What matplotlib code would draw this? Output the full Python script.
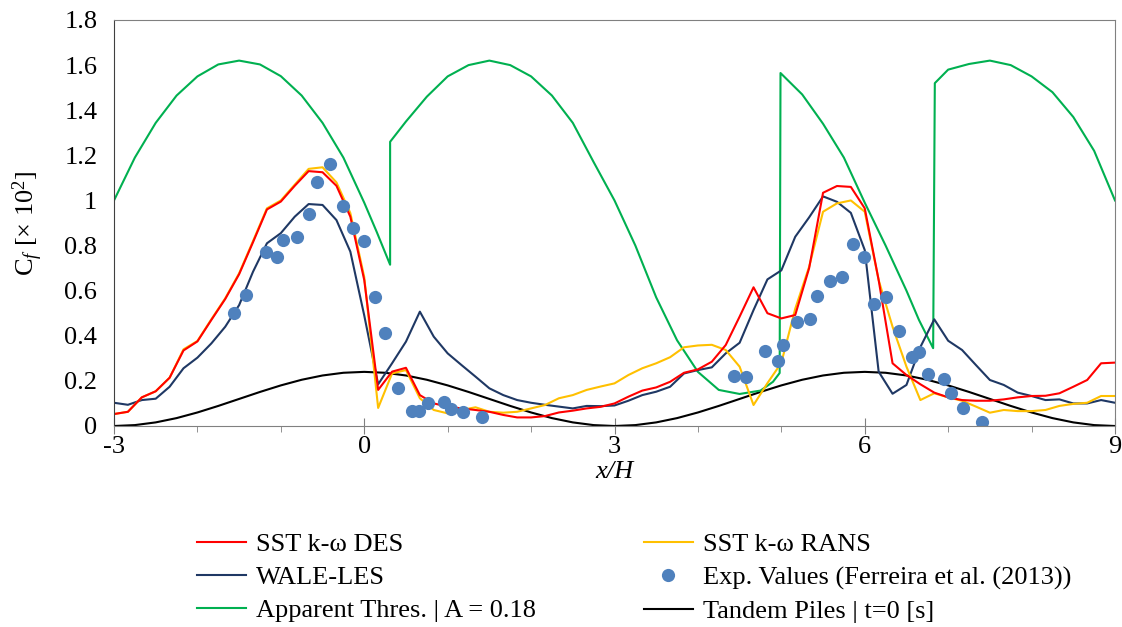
import numpy as np
import matplotlib.pyplot as plt
from matplotlib.lines import Line2D
from matplotlib.ticker import MultipleLocator

plt.rcParams['font.family'] = ['Liberation Serif', 'DejaVu Serif']
plt.rcParams['mathtext.fontset'] = 'custom'
plt.rcParams['mathtext.rm'] = 'Liberation Serif'
plt.rcParams['mathtext.it'] = 'Liberation Serif:italic'
plt.rcParams['axes.unicode_minus'] = False

# bed shear stations, every H/6 from x/H = -3 to 9
x_h = np.linspace(-3, 9, 73)

des = [0.053, 0.063, 0.127, 0.154, 0.214, 0.335, 0.375, 0.470, 0.563, 0.673,
       0.815, 0.960, 0.995, 1.065, 1.130, 1.125, 1.065, 0.928, 0.647, 0.160,
       0.241, 0.258, 0.137, 0.100, 0.086, 0.078, 0.071, 0.063, 0.049, 0.038,
       0.038, 0.044, 0.060, 0.068, 0.078, 0.085, 0.100, 0.130, 0.157, 0.171,
       0.196, 0.236, 0.251, 0.285, 0.359, 0.485, 0.615, 0.500, 0.477, 0.492,
       0.700, 1.034, 1.064, 1.060, 0.965, 0.647, 0.278, 0.226, 0.185, 0.148,
       0.127, 0.115, 0.112, 0.112, 0.118, 0.127, 0.133, 0.134, 0.145, 0.174,
       0.204, 0.278, 0.281]

rans = [0.053, 0.063, 0.127, 0.154, 0.214, 0.340, 0.377, 0.473, 0.566, 0.677,
        0.820, 0.965, 1.000, 1.070, 1.140, 1.147, 1.080, 0.944, 0.660, 0.080,
        0.233, 0.248, 0.123, 0.071, 0.056, 0.071, 0.083, 0.063, 0.059, 0.063,
        0.078, 0.093, 0.123, 0.137, 0.160, 0.175, 0.189, 0.226, 0.256, 0.278,
        0.305, 0.349, 0.357, 0.360, 0.337, 0.263, 0.093, 0.190, 0.280, 0.520,
        0.706, 0.950, 0.987, 1.000, 0.950, 0.647, 0.440, 0.263, 0.115, 0.145,
        0.127, 0.112, 0.086, 0.059, 0.071, 0.066, 0.066, 0.071, 0.089, 0.098,
        0.103, 0.133, 0.133]

les = [0.103, 0.094, 0.115, 0.121, 0.174, 0.256, 0.303, 0.366, 0.440, 0.536,
       0.684, 0.810, 0.855, 0.928, 0.984, 0.980, 0.913, 0.773, 0.490, 0.185,
       0.278, 0.374, 0.507, 0.396, 0.322, 0.270, 0.219, 0.167, 0.137, 0.115,
       0.103, 0.094, 0.086, 0.078, 0.089, 0.088, 0.091, 0.112, 0.137, 0.152,
       0.174, 0.233, 0.248, 0.260, 0.322, 0.369, 0.514, 0.650, 0.690, 0.839,
       0.925, 1.018, 0.994, 0.945, 0.780, 0.241, 0.143, 0.182, 0.350, 0.473,
       0.378, 0.337, 0.270, 0.204, 0.182, 0.148, 0.133, 0.115, 0.118, 0.100,
       0.100, 0.115, 0.103]

exp_x = [-1.56, -1.42, -1.18, -1.04, -0.97, -0.81, -0.66, -0.57, -0.41, -0.25,
         -0.13, 0.00, 0.13, 0.25, 0.41, 0.57, 0.66, 0.77, 0.96, 1.04, 1.18, 1.41,
         4.43, 4.58, 4.80, 4.96, 5.02, 5.19, 5.34, 5.43, 5.58, 5.73, 5.86, 5.99,
         6.11, 6.25, 6.41, 6.57, 6.65, 6.76, 6.95, 7.03, 7.18, 7.40]
exp_cf = [0.502, 0.582, 0.773, 0.750, 0.823, 0.836, 0.941, 1.080, 1.160, 0.974,
          0.878, 0.819, 0.573, 0.411, 0.167, 0.066, 0.066, 0.100, 0.108, 0.074,
          0.063, 0.041,
          0.223, 0.219, 0.334, 0.290, 0.361, 0.462, 0.473, 0.576, 0.643, 0.659,
          0.805, 0.750, 0.541, 0.573, 0.421, 0.304, 0.326, 0.230, 0.208, 0.145,
          0.078, 0.019]

thres_x = [-3.0, -2.75, -2.5, -2.25, -2.0, -1.75, -1.5, -1.25, -1.0, -0.75,
           -0.5, -0.25, 0.0, 0.15, 0.31,
           0.31, 0.5, 0.75, 1.0, 1.25, 1.5, 1.75, 2.0, 2.25, 2.5, 2.75, 3.0,
           3.25, 3.5, 3.75, 4.0, 4.25, 4.5, 4.75, 4.9, 4.98,
           4.99, 5.25, 5.5, 5.75, 6.0, 6.25, 6.5, 6.65, 6.82,
           6.84, 7.0, 7.25, 7.5, 7.75, 8.0, 8.25, 8.5, 8.75, 9.0]
thres_cf = [1.00, 1.19, 1.344, 1.465, 1.55, 1.603, 1.62, 1.603, 1.551, 1.465,
            1.344, 1.19, 0.99, 0.86, 0.715,
            1.26, 1.35, 1.46, 1.55, 1.60, 1.62, 1.60, 1.55, 1.465, 1.344, 1.17,
            1.00, 0.80, 0.57, 0.38, 0.24, 0.16, 0.142, 0.157, 0.196, 0.235,
            1.565, 1.47, 1.34, 1.19, 0.99, 0.80, 0.60, 0.47, 0.345,
            1.52, 1.58, 1.605, 1.62, 1.60, 1.55, 1.48, 1.37, 1.22, 1.00]

pile_x = np.arange(-3, 9.001, 0.25)
pile_cf = [0.000, 0.004, 0.016, 0.035, 0.060, 0.089, 0.120, 0.151, 0.180,
           0.205, 0.224, 0.236, 0.240, 0.236, 0.224, 0.205, 0.180, 0.151,
           0.120, 0.089, 0.060, 0.035, 0.016, 0.004, 0.000, 0.004, 0.016,
           0.035, 0.060, 0.089, 0.120, 0.151, 0.180, 0.205, 0.224, 0.236,
           0.240, 0.236, 0.224, 0.205, 0.180, 0.151, 0.120, 0.089, 0.060,
           0.035, 0.016, 0.004, 0.000]

c_des = '#ff0000'
c_rans = '#ffc000'
c_les = '#1f3864'
c_exp = '#4f81bd'
c_thr = '#00b050'
c_pile = '#000000'
lw = 1.5
fs = 19

fig = plt.figure(figsize=(11.22, 6.27), dpi=100)
ax = fig.add_axes([114 / 1122, 1 - 426 / 627, 1001 / 1122, 406 / 627])

ax.plot(pile_x, pile_cf, color=c_pile, lw=lw)
ax.plot(thres_x, thres_cf, color=c_thr, lw=lw)
ax.plot(x_h, les, color=c_les, lw=lw)
ax.plot(x_h, rans, color=c_rans, lw=lw)
ax.plot(x_h, des, color=c_des, lw=lw)
ax.plot(exp_x, exp_cf, 'o', color=c_exp, ms=9.5, mew=0)

ax.set_xlim(-3, 9)
ax.set_ylim(0, 1.8)
ax.set_xticks([-3, 0, 3, 6, 9])
ax.xaxis.set_minor_locator(MultipleLocator(1))
ax.set_yticks(np.arange(0, 1.81, 0.2))
ax.set_yticklabels(['0', '0.2', '0.4', '0.6', '0.8', '1', '1.2', '1.4', '1.6', '1.8'])
ax.tick_params(axis='x', which='major', direction='inout', length=11,
               color='#808080', labelsize=fs, pad=2)
ax.tick_params(axis='x', which='minor', direction='out', length=4.5,
               color='#808080')
ax.tick_params(axis='y', length=0, labelsize=fs, pad=12)
for side in ['top', 'right', 'bottom']:
    ax.spines[side].set_color('#808080')
ax.spines['left'].set_color('#404040')

ax.set_xlabel('x/H', style='italic', fontsize=fs, labelpad=2)
fig.text(28 / 1122, 1 - 223 / 627, r'C$_f$ [× 10$^2$]', rotation=90,
         ha='center', va='center', fontsize=fs)

col1 = [Line2D([], [], color=c_des, lw=lw),
        Line2D([], [], color=c_les, lw=lw),
        Line2D([], [], color=c_thr, lw=lw)]
col2 = [Line2D([], [], color=c_rans, lw=lw),
        Line2D([], [], ls='none', marker='o', color=c_exp, ms=9.5, mew=0),
        Line2D([], [], color=c_pile, lw=lw)]
leg_kw = dict(loc='upper left', frameon=False, fontsize=fs, borderpad=0,
              borderaxespad=0, handlelength=1.85, handletextpad=0.4,
              labelspacing=0.36)
fig.legend(col1, ['SST k-ω DES', 'WALE-LES', 'Apparent Thres. | A = 0.18'],
           bbox_to_anchor=(197 / 1122, 1 - 533 / 627), **leg_kw)
fig.legend(col2, ['SST k-ω RANS', 'Exp. Values (Ferreira et al. (2013))',
                  'Tandem Piles | t=0 [s]'],
           bbox_to_anchor=(644 / 1122, 1 - 533 / 627), **leg_kw)

fig.savefig('out.png', dpi=100)
